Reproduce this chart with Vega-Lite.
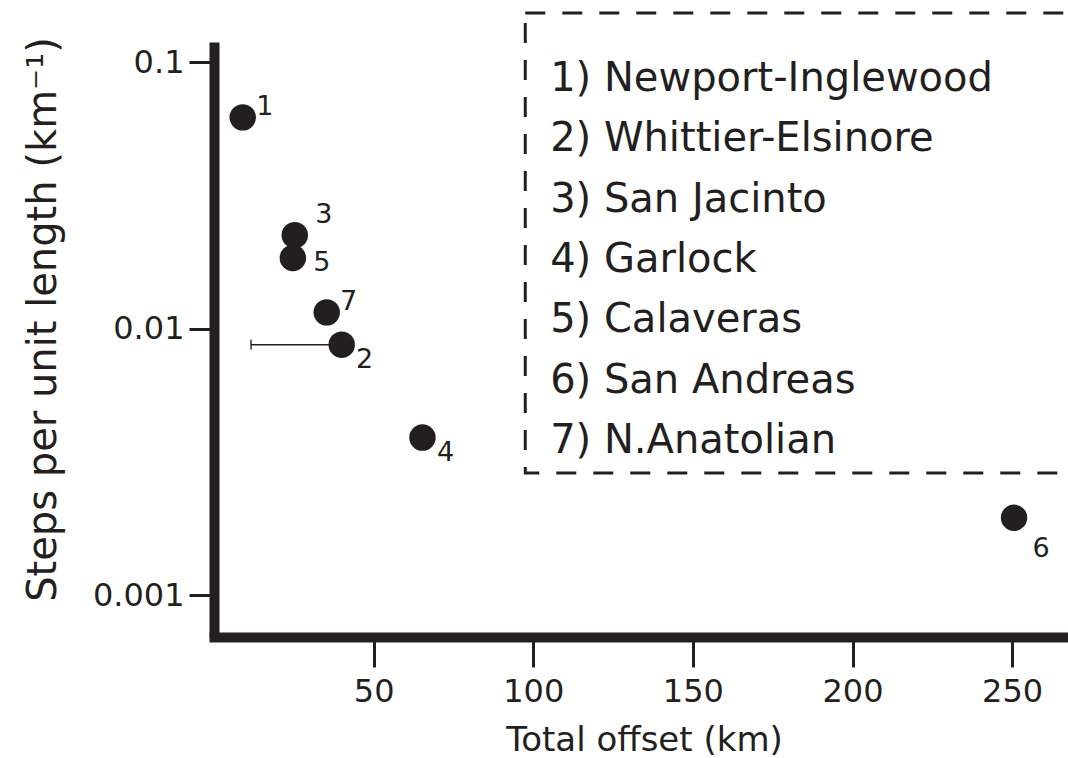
{
  "$schema": "https://vega.github.io/schema/vega-lite/v6.json",
  "width": 854,
  "height": 595,
  "autosize": {"type": "none"},
  "padding": {"left": 214, "top": 42, "right": 0, "bottom": 121},
  "background": "white",
  "config": {
    "view": {"stroke": null},
    "font": "DejaVu Sans",
    "axisX": {
      "grid": false, "domainWidth": 10, "domainColor": "#231f20", "domainCap": "square",
      "tickSize": 30, "tickWidth": 3, "tickColor": "#231f20",
      "labelFont": "DejaVu Sans", "labelFontSize": 32, "labelColor": "#231f20", "labelPadding": 9,
      "labelFlush": false, "labelOverlap": false,
      "titleFont": "DejaVu Sans", "titleFontSize": 34, "titleFontWeight": "normal", "titleColor": "#231f20",
      "titleX": 430, "titleY": 113, "titleBaseline": "alphabetic", "titleAlign": "center"
    }
  },
  "datasets": {
    "faults": [
      {"id": 1, "legend": "1) Newport-Inglewood", "offset": 9, "steps": 0.062, "pos": "upper right"},
      {"id": 2, "legend": "2) Whittier-Elsinore", "offset": 40, "offset_min": 11.6, "steps": 0.0087, "pos": "lower right"},
      {"id": 3, "legend": "3) San Jacinto", "offset": 25.3, "steps": 0.0224, "pos": "above right"},
      {"id": 4, "legend": "4) Garlock", "offset": 65.3, "steps": 0.0039, "pos": "lower right"},
      {"id": 5, "legend": "5) Calaveras", "offset": 24.7, "steps": 0.0184, "pos": "right"},
      {"id": 6, "legend": "6) San Andreas", "offset": 250.6, "steps": 0.00195, "pos": "below right"},
      {"id": 7, "legend": "7) N.Anatolian", "offset": 35.3, "steps": 0.0115, "pos": "upper right"}
    ]
  },
  "data": {"name": "faults"},
  "layer": [
    {
      "mark": {"type": "point", "shape": "circle", "filled": true, "size": 700, "color": "#231f20", "opacity": 1, "strokeWidth": 0},
      "encoding": {
        "x": {
          "field": "offset", "type": "quantitative",
          "scale": {"domain": [0, 267.5], "nice": false, "zero": false},
          "axis": {"title": "Total offset (km)", "values": [50, 100, 150, 200, 250], "format": "d"}
        },
        "y": {
          "field": "steps", "type": "quantitative",
          "scale": {"type": "log", "domain": [0.000696, 0.1189], "nice": false},
          "axis": {
            "orient": "left",
            "values": [0.001, 0.01, 0.1], "format": "~g", "title": "Steps per unit length (km⁻¹)",
            "grid": false, "domainWidth": 10, "domainColor": "#231f20", "domainCap": "butt",
            "tickSize": 25, "tickWidth": 3, "tickColor": "#231f20",
            "labelFont": "DejaVu Sans", "labelFontSize": 32, "labelColor": "#231f20", "labelPadding": 5,
            "labelBaseline": "middle", "labelFlush": false, "labelOverlap": false,
            "titleFont": "DejaVu Sans", "titleFontSize": 40, "titleFontWeight": "normal", "titleColor": "#231f20",
            "titleX": -159, "titleY": 277, "titleAngle": -90, "titleBaseline": "alphabetic", "titleAlign": "center"
          }
        }
      }
    },
    {
      "transform": [{"filter": {"field": "offset_min", "valid": true}}],
      "mark": {"type": "rule", "color": "#231f20", "strokeWidth": 1.5},
      "encoding": {
        "x": {"field": "offset_min", "type": "quantitative", "title": "Total offset (km)"},
        "x2": {"field": "offset"},
        "y": {"field": "steps", "type": "quantitative", "scale": {"type": "log", "domain": [0.000696, 0.1189], "nice": false}, "axis": null}
      }
    },
    {
      "transform": [{"filter": {"field": "offset_min", "valid": true}}],
      "mark": {"type": "tick", "orient": "vertical", "color": "#231f20", "size": 10, "thickness": 2},
      "encoding": {
        "x": {"field": "offset_min", "type": "quantitative", "title": "Total offset (km)"},
        "y": {"field": "steps", "type": "quantitative", "scale": {"type": "log", "domain": [0.000696, 0.1189], "nice": false}, "axis": null}
      }
    },
    {
      "transform": [{"filter": {"field": "pos", "equal": "upper right"}}],
      "mark": {"type": "text", "font": "DejaVu Sans", "fontSize": 27, "color": "#231f20", "align": "center", "baseline": "middle", "dx": 22, "dy": -10},
      "encoding": {
        "x": {"field": "offset", "type": "quantitative", "title": "Total offset (km)"},
        "y": {"field": "steps", "type": "quantitative", "scale": {"type": "log", "domain": [0.000696, 0.1189], "nice": false}, "axis": null},
        "text": {"field": "id", "type": "nominal"}
      }
    },
    {
      "transform": [{"filter": {"field": "pos", "equal": "above right"}}],
      "mark": {"type": "text", "font": "DejaVu Sans", "fontSize": 27, "color": "#231f20", "align": "center", "baseline": "middle", "dx": 29, "dy": -20},
      "encoding": {
        "x": {"field": "offset", "type": "quantitative", "title": "Total offset (km)"},
        "y": {"field": "steps", "type": "quantitative", "scale": {"type": "log", "domain": [0.000696, 0.1189], "nice": false}, "axis": null},
        "text": {"field": "id", "type": "nominal"}
      }
    },
    {
      "transform": [{"filter": {"field": "pos", "equal": "right"}}],
      "mark": {"type": "text", "font": "DejaVu Sans", "fontSize": 27, "color": "#231f20", "align": "center", "baseline": "middle", "dx": 29, "dy": 5},
      "encoding": {
        "x": {"field": "offset", "type": "quantitative", "title": "Total offset (km)"},
        "y": {"field": "steps", "type": "quantitative", "scale": {"type": "log", "domain": [0.000696, 0.1189], "nice": false}, "axis": null},
        "text": {"field": "id", "type": "nominal"}
      }
    },
    {
      "transform": [{"filter": {"field": "pos", "equal": "lower right"}}],
      "mark": {"type": "text", "font": "DejaVu Sans", "fontSize": 27, "color": "#231f20", "align": "center", "baseline": "middle", "dx": 23, "dy": 15},
      "encoding": {
        "x": {"field": "offset", "type": "quantitative", "title": "Total offset (km)"},
        "y": {"field": "steps", "type": "quantitative", "scale": {"type": "log", "domain": [0.000696, 0.1189], "nice": false}, "axis": null},
        "text": {"field": "id", "type": "nominal"}
      }
    },
    {
      "transform": [{"filter": {"field": "pos", "equal": "below right"}}],
      "mark": {"type": "text", "font": "DejaVu Sans", "fontSize": 27, "color": "#231f20", "align": "center", "baseline": "middle", "dx": 27, "dy": 31},
      "encoding": {
        "x": {"field": "offset", "type": "quantitative", "title": "Total offset (km)"},
        "y": {"field": "steps", "type": "quantitative", "scale": {"type": "log", "domain": [0.000696, 0.1189], "nice": false}, "axis": null},
        "text": {"field": "id", "type": "nominal"}
      }
    },
    {
      "data": {"values": [{"box": "legend"}]},
      "mark": {"type": "rect", "filled": false, "fill": null, "stroke": "#231f20", "strokeWidth": 3, "strokeDash": [20, 17]},
      "encoding": {
        "x": {"datum": 97.5, "type": "quantitative", "title": "Total offset (km)"},
        "x2": {"datum": 300},
        "y": {"datum": -0.095, "type": "quantitative", "scale": {"domain": [0.386, 10.253], "reverse": true, "nice": false, "zero": false}, "axis": null},
        "y2": {"datum": 7.534}
      }
    },
    {
      "mark": {"type": "text", "font": "DejaVu Sans", "fontSize": 40, "color": "#231f20", "align": "left", "baseline": "middle"},
      "encoding": {
        "x": {"datum": 105.3, "type": "quantitative", "title": "Total offset (km)"},
        "y": {"field": "id", "type": "quantitative", "scale": {"domain": [0.386, 10.253], "reverse": true, "nice": false, "zero": false}, "axis": null},
        "text": {"field": "legend", "type": "nominal"}
      }
    }
  ],
  "resolve": {"scale": {"y": "independent"}}
}
